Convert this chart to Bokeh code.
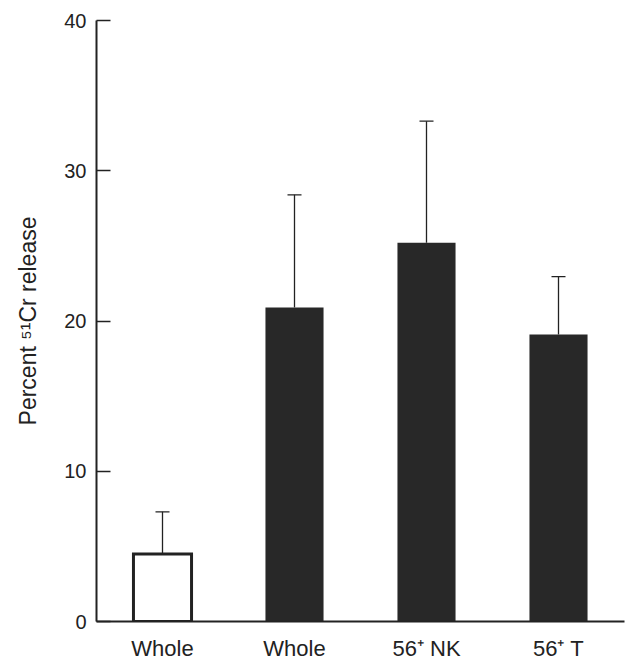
from bokeh.plotting import figure
from bokeh.models import ColumnDataSource, Range1d, FixedTicker, Whisker, TeeHead
from bokeh.embed import file_html
from bokeh.resources import INLINE

categories = ["Whole", "Whole", "56⁺ NK", "56⁺ T"]
means = [4.5, 20.9, 25.2, 19.1]
upper = [7.3, 28.4, 33.3, 22.95]
fills = ["white", "#282828", "#282828", "#282828"]
line_widths = [3, 0, 0, 0]
y_ticks = [0, 10, 20, 30, 40]

xs = [i + 0.5 for i in range(len(categories))]
source = ColumnDataSource(dict(x=xs, top=means, upper=upper, fill=fills, lw=line_widths))

FONT = "Liberation Sans"
INK = "#222222"

p = figure(width=630, height=663, output_backend="svg", toolbar_location=None,
           x_range=Range1d(0, 4), y_range=Range1d(0, 40),
           min_border_left=96, min_border_right=6, min_border_top=20, min_border_bottom=42)
p.outline_line_color = None
p.xgrid.grid_line_color = None
p.ygrid.grid_line_color = None
p.background_fill_color = "white"

p.vbar(x="x", top="top", bottom=0, width=0.44, source=source,
       fill_color="fill", line_color="#222222", line_width="lw", line_join="miter")

w = Whisker(base="x", lower="top", upper="upper", source=source,
            line_color=INK, line_width=1.3,
            upper_head=TeeHead(size=14, line_color=INK, line_width=1.3),
            lower_head=None, level="underlay")
p.add_layout(w)

# y axis
p.yaxis.ticker = FixedTicker(ticks=y_ticks)
p.yaxis.minor_tick_line_color = None
p.yaxis.major_tick_in = 14
p.yaxis.major_tick_out = 0
p.yaxis.major_tick_line_width = 1.3
p.yaxis.major_tick_line_color = INK
p.yaxis.axis_line_width = 2
p.yaxis.axis_line_color = INK
p.yaxis.major_label_text_font = FONT
p.yaxis.major_label_text_font_size = "20px"
p.yaxis.major_label_text_color = INK
p.yaxis.major_label_standoff = 10
p.yaxis.axis_label = "Percent ⁵¹Cr release"
p.yaxis.axis_label_text_font = FONT
p.yaxis.axis_label_text_font_style = "normal"
p.yaxis.axis_label_text_font_size = "23px"
p.yaxis.axis_label_text_color = INK
p.yaxis.axis_label_standoff = 20

# x axis
p.xaxis.ticker = FixedTicker(ticks=xs)
p.xaxis.major_label_overrides = {x: c for x, c in zip(xs, categories)}
p.xaxis.major_tick_line_color = None
p.xaxis.minor_tick_line_color = None
p.xaxis.axis_line_width = 2
p.xaxis.axis_line_color = INK
p.xaxis.major_label_text_font = FONT
p.xaxis.major_label_text_font_size = "22px"
p.xaxis.major_label_text_color = INK
p.xaxis.major_label_standoff = 8

open("out.html", "w").write(file_html(p, INLINE))
